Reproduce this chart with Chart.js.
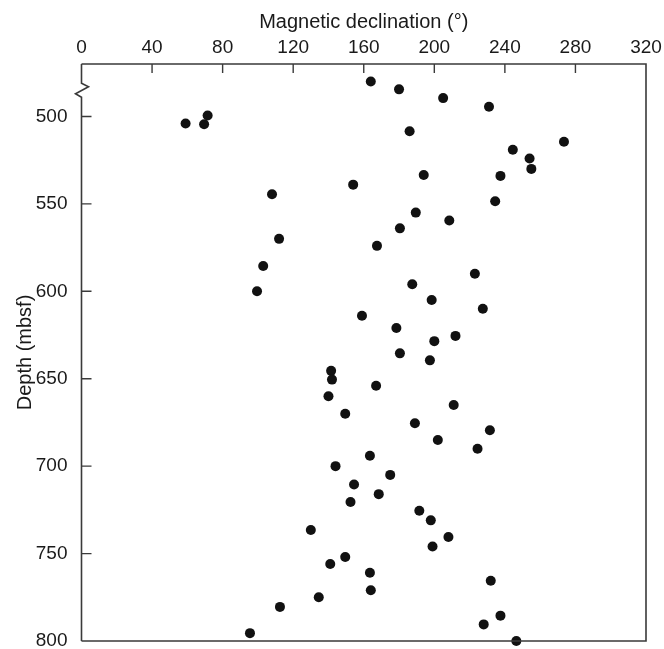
<!DOCTYPE html>
<html>
<head>
<meta charset="utf-8">
<script src="https://cdn.jsdelivr.net/npm/chart.js@4.4.1/dist/chart.umd.min.js"></script>
<style>
  html, body { margin: 0; padding: 0; background: #ffffff; }
  #wrap { width: 664px; height: 649px; }
</style>
</head>
<body>
<div id="wrap"><canvas id="c" width="664" height="649"></canvas></div>
<script>
// Magnetic declination (degrees)
const declination = [
  164, 180, 205, 231, 71.5, 59, 69.5, 186, 273.5, 244.5,
  254, 255, 237.5, 194, 154, 108, 234.5, 189.5, 208.5, 180.5,
  112, 167.5, 103, 223, 187.5, 99.5, 198.5, 227.5, 159, 178.5,
  212, 200, 180.5, 197.5, 141.5, 142, 167, 140, 211, 149.5,
  189, 231.5, 202, 224.5, 163.5, 144, 175, 154.5, 168.5, 152.5,
  191.5, 198, 130, 208, 199, 149.5, 141, 163.5, 232, 164,
  134.5, 112.5, 237.5, 228, 95.5, 246.5
];
// Depth (mbsf) for each point
const depth = [
  480, 484.5, 489.5, 494.5, 499.5, 504, 504.5, 508.5, 514.5, 519,
  524, 530, 534, 533.5, 539, 544.5, 548.5, 555, 559.5, 564,
  570, 574, 585.5, 590, 596, 600, 605, 610, 614, 621,
  625.5, 628.5, 635.5, 639.5, 645.5, 650.5, 654, 660, 665, 670,
  675.5, 679.5, 685, 690, 694, 700, 705, 710.5, 716, 720.5,
  725.5, 731, 736.5, 740.5, 746, 752, 756, 761, 765.5, 771,
  775, 780.5, 785.5, 790.5, 795.5, 800
];
const xTicks = [0, 40, 80, 120, 160, 200, 240, 280, 320];
const yTicks = [500, 550, 600, 650, 700, 750, 800];
const xRange = [0, 320];
const yRange = [470, 800];
const axisBreak = [481, 483, 487, 489]; // depth values of the zigzag break on the depth axis

const points = declination.map((d, i) => ({ x: d, y: depth[i] }));

const frame = {
  id: 'frame',
  afterDraw(chart) {
    const ctx = chart.ctx;
    const a = chart.chartArea;
    const xs = chart.scales.x, ys = chart.scales.y;
    ctx.save();
    ctx.strokeStyle = '#3a3a3a';
    ctx.lineWidth = 1.6;
    ctx.lineCap = 'butt';
    ctx.beginPath();
    ctx.moveTo(a.left, a.top);
    ctx.lineTo(a.right, a.top);
    ctx.lineTo(a.right, a.bottom);
    ctx.lineTo(a.left, a.bottom);
    ctx.stroke();
    const yb = axisBreak.map(v => ys.getPixelForValue(v));
    ctx.beginPath();
    ctx.moveTo(a.left, a.top);
    ctx.lineTo(a.left, yb[0]);
    ctx.lineTo(a.left + 7, yb[1]);
    ctx.lineTo(a.left - 6, yb[2]);
    ctx.lineTo(a.left, yb[3]);
    ctx.lineTo(a.left, a.bottom);
    ctx.stroke();
    ctx.lineWidth = 1.4;
    ctx.beginPath();
    xTicks.forEach(v => {
      if (v === xRange[0] || v === xRange[1]) return;
      const px = xs.getPixelForValue(v);
      ctx.moveTo(px, a.top);
      ctx.lineTo(px, a.top + 9);
    });
    yTicks.forEach(v => {
      if (v === yRange[1]) return;
      const py = ys.getPixelForValue(v);
      ctx.moveTo(a.left, py);
      ctx.lineTo(a.left + 10, py);
    });
    ctx.stroke();
    ctx.restore();
  }
};

const font = '"Liberation Sans", Arial, sans-serif';

new Chart(document.getElementById('c'), {
  type: 'scatter',
  data: {
    datasets: [{
      data: points,
      backgroundColor: '#111111',
      borderColor: '#111111',
      pointRadius: 5,
      pointHoverRadius: 5,
      borderWidth: 0,
      clip: false
    }]
  },
  options: {
    responsive: false,
    animation: false,
    events: [],
    layout: { padding: { left: 0, top: 0, right: 18, bottom: 8 } },
    plugins: { legend: { display: false }, tooltip: { enabled: false } },
    scales: {
      x: {
        type: 'linear',
        position: 'top',
        min: xRange[0],
        max: xRange[1],
        afterBuildTicks(scale) { scale.ticks = xTicks.map(v => ({ value: v })); },
        afterFit(scale) {
          scale.height = 64;
          scale.paddingLeft = 0; scale.paddingRight = 0;
          scale.paddingTop = 0; scale.paddingBottom = 0;
        },
        grid: { display: false, drawTicks: false, tickLength: 0 },
        border: { display: false },
        ticks: {
          color: '#1a1a1a',
          padding: 5,
          maxRotation: 0,
          font: { family: font, size: 19 }
        },
        title: {
          display: true,
          text: 'Magnetic declination (°)',
          color: '#1a1a1a',
          padding: { top: 10, bottom: 0 },
          font: { family: font, size: 20 }
        }
      },
      y: {
        type: 'linear',
        position: 'left',
        reverse: true,
        min: yRange[0],
        max: yRange[1],
        afterBuildTicks(scale) { scale.ticks = yTicks.map(v => ({ value: v })); },
        afterFit(scale) {
          scale.width = 81.5;
          scale.paddingLeft = 0; scale.paddingRight = 0;
          scale.paddingTop = 0; scale.paddingBottom = 0;
        },
        grid: { display: false, drawTicks: false, tickLength: 0 },
        border: { display: false },
        ticks: {
          color: '#1a1a1a',
          padding: 14,
          font: { family: font, size: 19 }
        },
        title: {
          display: true,
          text: 'Depth (mbsf)',
          color: '#1a1a1a',
          padding: { top: 13, bottom: 0 },
          font: { family: font, size: 20 }
        }
      }
    }
  },
  plugins: [frame]
});
</script>
</body>
</html>
